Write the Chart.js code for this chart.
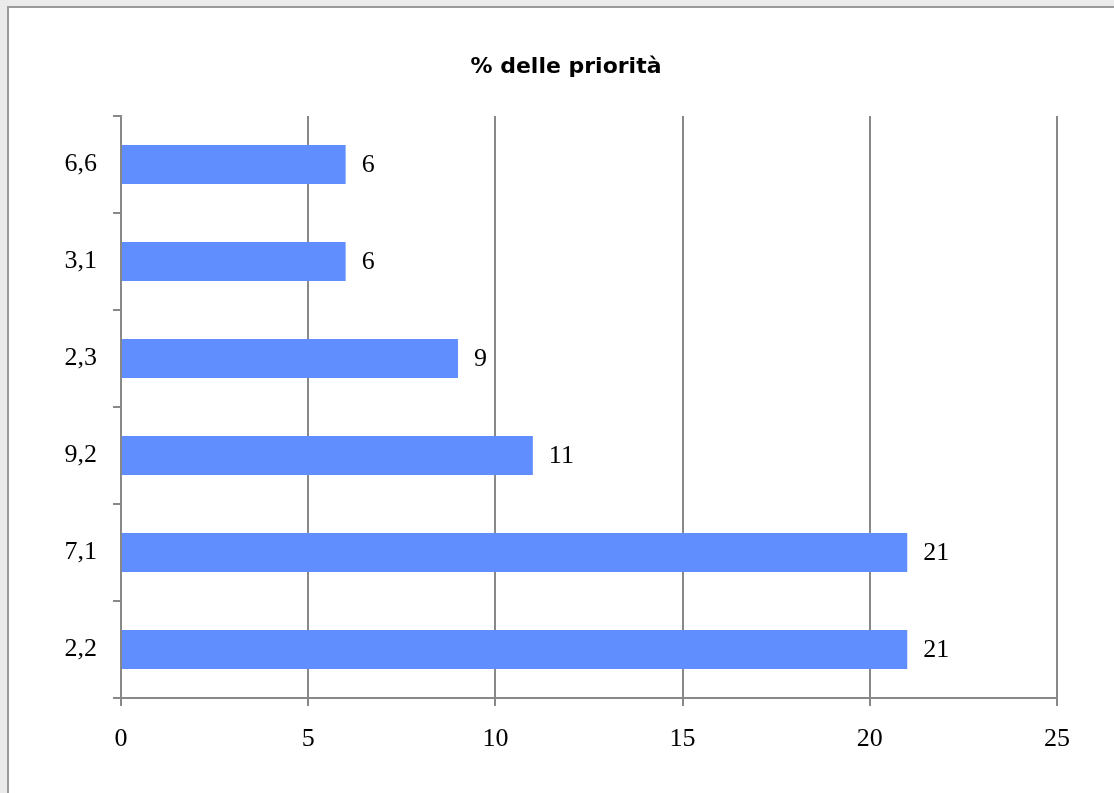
<!DOCTYPE html>
<html>
<head>
<meta charset="utf-8">
<title>% delle priorità</title>
<script src="https://cdn.jsdelivr.net/npm/chart.js@4/dist/chart.umd.min.js"></script>
<style>
  html, body { margin: 0; padding: 0; background: #ebebeb; overflow: hidden; }
  #frame {
    position: absolute; left: 7px; top: 6px; width: 1120px; height: 800px;
    background: #fff; border-top: 2px solid #9a9a9a; border-left: 2px solid #9a9a9a;
  }
  #priority-chart { position: absolute; left: 0; top: 0; }
</style>
</head>
<body>
<div id="frame"></div>
<canvas id="priority-chart" width="1114" height="793"></canvas>
<script>
'use strict';

// *************** GLOBALS
let chartTitle = '% delle priorità';
let categories = ['6,6', '3,1', '2,3', '9,2', '7,1', '2,2'];
let priorityValues = [6, 6, 9, 11, 21, 21];
let xTicks = [0, 5, 10, 15, 20, 25];

let barColor = '#608eff';
let lineColor = '#888888';
let serifFont = { family: '"Liberation Serif", "Times New Roman", serif', size: 26 };

// *************** CANVAS ELEMENT FOR CHART
let ctx = document.getElementById('priority-chart');

// *********** PLUGIN: title centred over the white frame, not the canvas
let frameTitle = {
  id: 'frameTitle',
  afterDraw(chart) {
    let c = chart.ctx;
    c.save();
    c.font = 'bold 22px "DejaVu Sans", Verdana, sans-serif';
    c.fillStyle = '#000';
    c.textAlign = 'center';
    c.textBaseline = 'middle';
    c.fillText(chartTitle, 566, 67);
    c.restore();
  }
};

// *********** PLUGIN: value written right of each bar
let valueLabels = {
  id: 'valueLabels',
  afterDatasetsDraw(chart) {
    let c = chart.ctx;
    let meta = chart.getDatasetMeta(0);
    c.save();
    c.font = `${serifFont.size}px ${serifFont.family}`;
    c.fillStyle = '#000';
    c.textAlign = 'left';
    c.textBaseline = 'middle';
    meta.data.forEach((bar, i) => {
      c.fillText(String(priorityValues[i]), bar.x + 16, bar.y + 1);
    });
    c.restore();
  }
};

// *********** RENDER CHART
function renderChart() {
  let chartObj = {
    type: 'bar',
    data: {
      labels: categories,
      datasets: [{
        data: priorityValues,
        backgroundColor: barColor,
        borderWidth: 0,
        barPercentage: 0.5,
        categoryPercentage: 0.8
      }]
    },
    options: {
      indexAxis: 'y',
      responsive: false,
      devicePixelRatio: 1,
      animation: false,
      layout: { padding: { left: 0, right: 57, top: 116, bottom: 0 } },
      plugins: {
        legend: { display: false },
        tooltip: { enabled: false },
        title: { display: false }
      },
      scales: {
        x: {
          min: 0,
          max: 25,
          afterBuildTicks(scale) {
            scale.ticks = xTicks.map(v => ({ value: v }));
          },
          afterFit(scale) {
            scale.height = 95;
          },
          grid: { color: lineColor, lineWidth: 2, drawTicks: true, tickLength: 8, tickColor: lineColor },
          border: { color: lineColor, width: 2 },
          ticks: { color: '#000', font: serifFont, padding: 18, maxRotation: 0 }
        },
        y: {
          afterFit(scale) {
            scale.width = 121;
          },
          grid: { offset: true, drawOnChartArea: false, drawTicks: true, tickLength: 8, color: lineColor, lineWidth: 2 },
          border: { color: lineColor, width: 2 },
          ticks: { color: '#000', font: serifFont, padding: 16 }
        }
      }
    },
    plugins: [frameTitle, valueLabels]
  };

  new Chart(ctx, chartObj); // eslint-disable-line
}

// **************** EXECUTABLE CODE
renderChart();
</script>
</body>
</html>
